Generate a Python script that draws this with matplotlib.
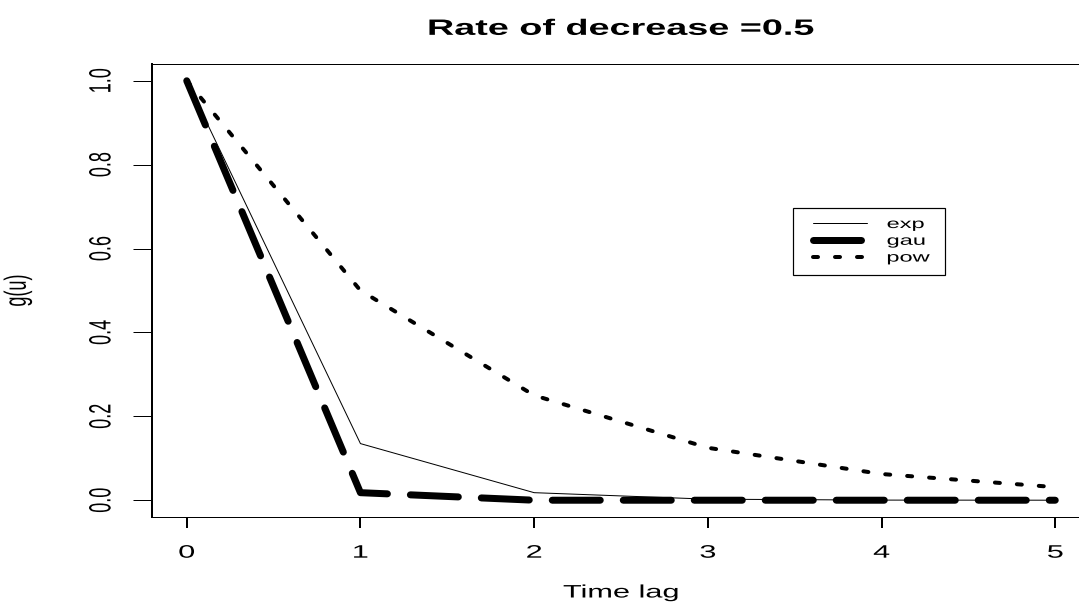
import matplotlib
matplotlib.use("Agg")
import numpy as np
import matplotlib.pyplot as plt
from matplotlib.patheffects import AbstractPathEffect
from matplotlib.transforms import Affine2D
from matplotlib.patches import Rectangle
from matplotlib.path import Path

# --- data -------------------------------------------------------------
time_lag = [0, 1, 2, 3, 4, 5]
g_exp = [1.0, 0.135, 0.018, 0.0025, 0.0003, 0.00005]
g_gau = [1.0, 0.018, 0.0, 0.0, 0.0, 0.0]
g_pow = [1.0, 0.5, 0.25, 0.125, 0.0625, 0.03125]
series_labels = ["exp", "gau", "pow"]
x_ticks = [0, 1, 2, 3, 4, 5]
x_tick_labels = ["0", "1", "2", "3", "4", "5"]
y_ticks = [0.0, 0.2, 0.4, 0.6, 0.8, 1.0]
y_tick_labels = ["0.0", "0.2", "0.4", "0.6", "0.8", "1.0"]
title_text = "Rate of decrease =0.5"
x_label = "Time lag"
y_label = "g(u)"

# --- geometry helpers -------------------------------------------------
W, H, DPI = 1079, 605, 100
PX = 72.0 / DPI          # points per pixel
WIDE = 1.7               # horizontal widening of all lettering


class WideText(AbstractPathEffect):
    """Render glyphs widened horizontally about their ink centre or left edge."""

    def __init__(self, factor=WIDE, anchor="center"):
        super().__init__()
        self.factor = factor
        self.anchor = anchor

    def draw_path(self, renderer, gc, tpath, affine, rgbFace=None):
        verts = tpath.vertices
        if tpath.codes is not None:
            verts = verts[np.asarray(tpath.codes) != Path.CLOSEPOLY]
        if len(verts):
            xs = affine.transform(verts)[:, 0]
            x0, x1 = xs.min(), xs.max()
        else:
            x0 = x1 = 0.0
        ref = x0 if self.anchor == "left" else 0.5 * (x0 + x1)
        wide = affine + Affine2D().translate(-ref, 0).scale(self.factor, 1).translate(ref, 0)
        renderer.draw_path(gc, tpath, wide, rgbFace)


plt.rcParams["font.family"] = ["Liberation Sans", "DejaVu Sans"]
plt.rcParams["lines.scale_dashes"] = False

fig = plt.figure(figsize=(W / DPI, H / DPI), dpi=DPI)
fig.patch.set_facecolor("white")
ax = fig.add_axes([152 / W, 88 / H, 938 / W, 453 / H])

# --- curves -----------------------------------------------------------
ax.plot(time_lag, g_exp, color="black", lw=1.0 * PX,
        solid_capstyle="round", label=series_labels[0])
ax.plot(time_lag, g_gau, color="black", lw=7.0 * PX,
        dashes=(48 * PX, 23 * PX), dash_capstyle="round",
        dash_joinstyle="round", label=series_labels[1])
ax.plot(time_lag, g_pow, color="black", lw=4.0 * PX,
        dashes=(5 * PX, 17 * PX), dash_capstyle="round",
        label=series_labels[2])

ax.set_xlim(-0.2, 5.2)
ax.set_ylim(-0.04, 1.04)

# --- frame and ticks --------------------------------------------------
ax.spines["left"].set_linewidth(2.0 * PX)
ax.spines["bottom"].set_linewidth(1.0 * PX)
ax.spines["top"].set_linewidth(1.0 * PX)
ax.spines["right"].set_linewidth(2.0 * PX)

ax.set_xticks(x_ticks, x_tick_labels)
ax.set_yticks(y_ticks, y_tick_labels, rotation=90, va="center")
ax.tick_params(axis="x", direction="out", length=11 * PX, width=2 * PX,
               pad=12, labelsize=13)
ax.tick_params(axis="y", direction="out", length=19 * PX, width=1 * PX,
               pad=16.5, labelsize=13)
for lbl in ax.get_xticklabels() + ax.get_yticklabels():
    lbl.set_path_effects([WideText()])

# --- titles -----------------------------------------------------------
ttl = ax.set_title(title_text, fontsize=16, fontweight="bold", pad=21)
ttl.set_path_effects([WideText()])

ax.set_xlabel(x_label, fontsize=13)
ax.xaxis.set_label_coords(0.5, (517 - 593) / 453)
ax.xaxis.label.set_va("center")
ax.xaxis.label.set_path_effects([WideText()])

ax.set_ylabel(y_label, fontsize=13)
ax.yaxis.set_label_coords((18 - 152) / 938, 0.5)
ax.yaxis.label.set_va("center")
ax.yaxis.label.set_path_effects([WideText()])

# --- legend -----------------------------------------------------------
leg = ax.legend(loc="upper left", bbox_to_anchor=(813 / W, 1 - 217 / H),
                bbox_transform=fig.transFigure, frameon=False, fontsize=10,
                borderpad=0, borderaxespad=0, handlelength=54 / 13.89,
                handletextpad=20 / 13.89, labelspacing=0.2)
for t in leg.get_texts():
    t.set_path_effects([WideText(anchor="left")])
fig.add_artist(Rectangle((793 / W, 1 - 275 / H), 152 / W, 67 / H,
                         transform=fig.transFigure, fill=False,
                         edgecolor="black", linewidth=1.2 * PX))

fig.savefig("out.png", dpi=DPI, facecolor="white")
